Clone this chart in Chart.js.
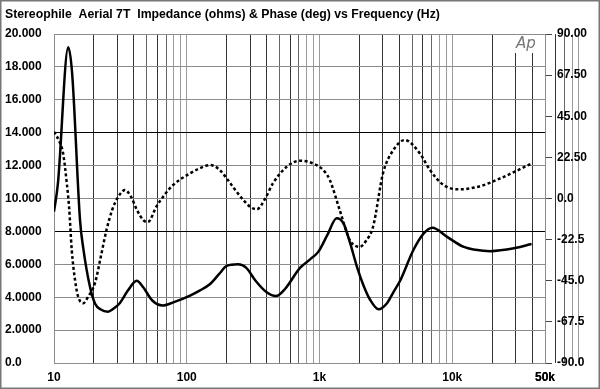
<!DOCTYPE html>
<html>
<head>
<meta charset="utf-8">
<script src="https://cdn.jsdelivr.net/npm/chart.js@4.4.1/dist/chart.umd.min.js"></script>
<style>
  html, body { margin: 0; padding: 0; background: #fff; }
  canvas { display: block; }
</style>
</head>
<body>
<canvas id="impedanceChart" width="600" height="389"></canvas>
<script>
// Aerial 7T impedance (ohms) and phase (deg)
var impFreq = [10, 10.7, 12.8, 13.7, 15.7, 16.6, 18.7, 20.4, 22.5, 25.5, 28, 31.4, 36, 42, 47, 55, 66, 80, 106, 125,
  150, 175, 200, 243, 280, 330, 400, 470, 550, 713, 850, 982, 1150, 1346, 1514, 1700, 1916, 2150, 2412, 2787,
  3200, 3600, 4048, 5100, 6100, 7100, 9100, 12100, 15000, 19400, 29200, 39600];
var impOhms = [9.2, 10.9, 19.2, 17.6, 8.7, 7.0, 4.6, 3.6, 3.25, 3.12, 3.3, 3.65, 4.4, 5.0, 4.6, 3.8, 3.5, 3.7, 4.1, 4.4,
  4.8, 5.4, 5.9, 6.0, 5.8, 5.0, 4.3, 4.07, 4.5, 5.78, 6.3, 6.77, 7.8, 8.8, 8.5, 7.3, 5.85, 4.7, 3.83, 3.26,
  3.6, 4.3, 5.0, 6.87, 7.88, 8.22, 7.68, 7.07, 6.88, 6.8, 6.97, 7.23];

var phaseFreq = [10, 11, 11.7, 12.5, 13, 13.6, 14.4, 15.2, 16.6, 18.1, 20.4, 22.5, 24.9, 27.5, 30.5, 34.3, 38, 42, 47, 51,
  59, 68, 79, 106, 125, 150, 175, 200, 230, 267, 300, 337, 390, 446, 567, 713, 950, 1100, 1197, 1420,
  1690, 2010, 2250, 2535, 3010, 3600, 4400, 5700, 6800, 8600, 11200, 16300, 23000, 40000];
var phaseDeg = [36.5, 31, 24.9, 8, -5, -28, -44.6, -53.7, -57.3, -53.7, -46, -32, -17, -6, 1, 4.6, 1, -6, -11.8, -12.9,
  -4.5, 2, 7.4, 13.8, 16.5, 18.3, 16, 11, 5, -0.8, -4.5, -5.9, 0, 8.3, 17.4, 20.7, 18.3, 14.5, 10.1, -6.3,
  -22.7, -26.4, -23, -15.4, 13.8, 26.5, 32, 24.7, 15.6, 7.4, 5.0, 6.8, 11, 19.3];

// tick labels
var freqTickValues = [10, 100, 1000, 10000, 50000];
var freqTickLabels = ['10', '100', '1k', '10k', '50k'];
var impTickLabels = ['0.0', '2.0000', '4.0000', '6.0000', '8.0000', '10.000', '12.000', '14.000', '16.000', '18.000', '20.000'];
var phaseTickLabels = ['-90.0', '-67.5', '-45.0', '-22.5', '0.0', '22.50', '45.00', '67.50', '90.00'];

var titleText = 'Stereophile  Aerial 7T  Impedance (ohms) & Phase (deg) vs Frequency (Hz)';

// log grid: 10,20..90,100,200..
var gridFreqs = [];
for (var k = 1; k <= 4; k++) {
  for (var m = 1; m <= 9; m++) {
    gridFreqs.push(m * Math.pow(10, k));
  }
}
gridFreqs.push(50000);

function toPoints(xs, ys) {
  return xs.map(function(x, i) { return { x: x, y: ys[i] }; });
}

var labelFont = { family: '"Liberation Sans", Arial, sans-serif', size: 12, weight: 'bold' };

var decorPlugin = {
  id: 'decor',
  beforeDraw: function(chart) {
    var c = chart.ctx;
    c.save();
    c.fillStyle = '#fff';
    c.fillRect(0, 0, chart.width, chart.height);
    c.restore();
  },
  afterDraw: function(chart) {
    var c = chart.ctx;
    c.save();
    // title, fitted to the width it has in the picture
    c.font = 'bold 100px "Liberation Sans", Arial, sans-serif';
    var w = c.measureText(titleText).width;
    var size = 100 * 435 / w;
    c.font = 'bold ' + size.toFixed(2) + 'px "Liberation Sans", Arial, sans-serif';
    c.fillStyle = '#000';
    c.textBaseline = 'alphabetic';
    c.fillText(titleText, 5, 18);

    // Ap logo
    c.fillStyle = '#fff';
    c.fillRect(510, 35, 30, 18);
    c.font = 'italic 15px "DejaVu Sans", sans-serif';
    c.fillStyle = '#777';
    c.fillText('Ap', 516, 48);

    // outer frame
    c.strokeStyle = '#777';
    c.lineWidth = 1.5;
    c.strokeRect(0.75, 0.75, chart.width - 1.5, chart.height - 1.5);
    c.restore();
  }
};

var ctx = document.getElementById('impedanceChart').getContext('2d');
var impedanceChart = new Chart(ctx, {
  type: 'line',
  data: {
    datasets: [{
      label: 'Impedance',
      data: toPoints(impFreq, impOhms),
      yAxisID: 'y',
      borderColor: '#000',
      borderWidth: 2.5,
      pointRadius: 0,
      cubicInterpolationMode: 'monotone',
      fill: false
    }, {
      label: 'Phase',
      data: toPoints(phaseFreq, phaseDeg),
      yAxisID: 'y1',
      borderColor: '#000',
      borderWidth: 2.5,
      borderDash: [3, 2.5],
      borderCapStyle: 'butt',
      pointRadius: 0,
      cubicInterpolationMode: 'monotone',
      fill: false
    }]
  },
  options: {
    responsive: false,
    animation: false,
    layout: { padding: { left: 5, right: 6, top: 34, bottom: 0 } },
    plugins: {
      legend: { display: false },
      tooltip: { enabled: false },
      title: { display: false }
    },
    scales: {
      x: {
        type: 'logarithmic',
        min: 10,
        max: 50000,
        afterBuildTicks: function(scale) {
          scale.ticks = gridFreqs.map(function(v) { return { value: v }; });
        },
        afterFit: function(scale) { scale.height = 26; },
        ticks: {
          autoSkip: false,
          maxRotation: 0,
          padding: 7,
          color: '#000',
          font: labelFont,
          callback: function(value) {
            var i = freqTickValues.indexOf(value);
            return i >= 0 ? freqTickLabels[i] : '';
          }
        },
        grid: {
          drawTicks: false,
          lineWidth: 1,
          color: function(context) {
            var v = context.tick ? context.tick.value : 0;
            var mant = Math.round(v / Math.pow(10, Math.floor(Math.log10(v) + 1e-9)));
            if (mant === 1 || mant === 8 || mant === 9) return '#9a9a9a';
            if (mant === 7 || mant === 5) return '#666';
            return '#333';
          }
        },
        border: { color: '#8c8c8c' }
      },
      y: {
        position: 'left',
        min: 0,
        max: 20,
        afterFit: function(scale) { scale.width = 49; },
        ticks: {
          stepSize: 2,
          crossAlign: 'far',
          color: '#000',
          font: labelFont,
          callback: function(value, index) { return impTickLabels[index]; }
        },
        grid: {
          drawTicks: false,
          lineWidth: 1,
          color: function(context) {
            var v = context.tick ? context.tick.value : 0;
            return (v === 14 || v === 8) ? '#000' : '#8c8c8c';
          }
        },
        border: { color: '#8c8c8c' }
      },
      y1: {
        position: 'right',
        min: -90,
        max: 90,
        afterFit: function(scale) { scale.width = 49; },
        ticks: {
          stepSize: 22.5,
          padding: 5,
          color: '#000',
          font: labelFont,
          callback: function(value, index) { return phaseTickLabels[index]; }
        },
        grid: {
          drawOnChartArea: false,
          drawTicks: true,
          tickLength: 7,
          color: '#444'
        },
        border: { color: '#8c8c8c' }
      }
    }
  },
  plugins: [decorPlugin]
});
</script>
</body>
</html>
